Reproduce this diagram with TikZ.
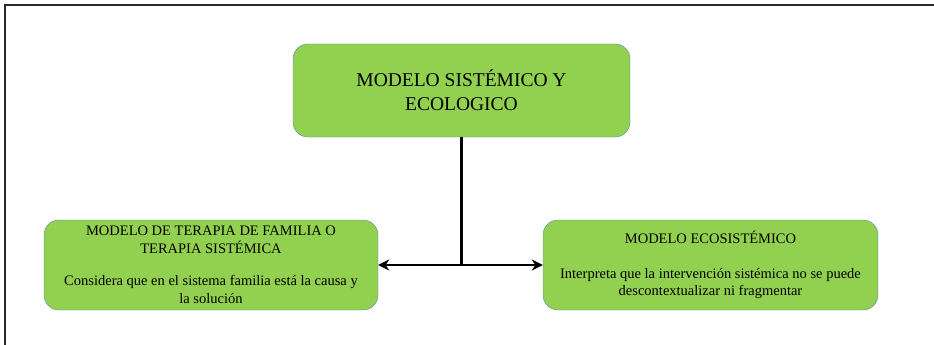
\documentclass[tikz,border=0pt]{standalone}
\usepackage{fontspec}
\setmainfont{Liberation Serif}
\usepackage{tikz}
\usetikzlibrary{shapes, arrows.meta, calc, positioning}

\definecolor{verde}{RGB}{146,208,80}
\definecolor{borde}{RGB}{95,130,185}
\definecolor{marco}{RGB}{40,40,40}

\begin{document}
\begin{tikzpicture}[>={Stealth[length=11pt,width=11pt]}, x=1pt, y=-1pt]
	\tikzstyle{caja} = [draw=borde, fill=verde, rounded corners=15pt, align=center, inner sep=0pt, font=\fontsize{14.5}{17.5}\selectfont]

	\useasboundingbox (0,0) rectangle (934,345);
	\draw[marco, line width=1.8pt] (5,345) -- (5,5) -- (934,5);

	\node[caja, minimum width=337pt, minimum height=93pt, font=\fontsize{19.5}{24}\selectfont] (modelo) at (461.5,90.5)
		{MODELO SISTÉMICO Y\\ECOLOGICO};
	\node[caja, minimum width=334pt, minimum height=90pt] (familia) at (211,265)
		{MODELO DE TERAPIA DE FAMILIA O\\TERAPIA SISTÉMICA\\[15pt]Considera que en el sistema familia está la causa y\\la solución};
	\node[caja, minimum width=335pt, minimum height=90pt] (eco) at (710.5,265)
		{MODELO ECOSISTÉMICO\\[17pt]Interpreta que la intervención sistémica no se puede\\descontextualizar ni fragmentar};

	\draw[line width=2.6pt] (modelo.south) -- (modelo.south |- familia.east);
	\draw[<->, line width=2.6pt] (familia.east) -- (eco.west);
\end{tikzpicture}
\end{document}
